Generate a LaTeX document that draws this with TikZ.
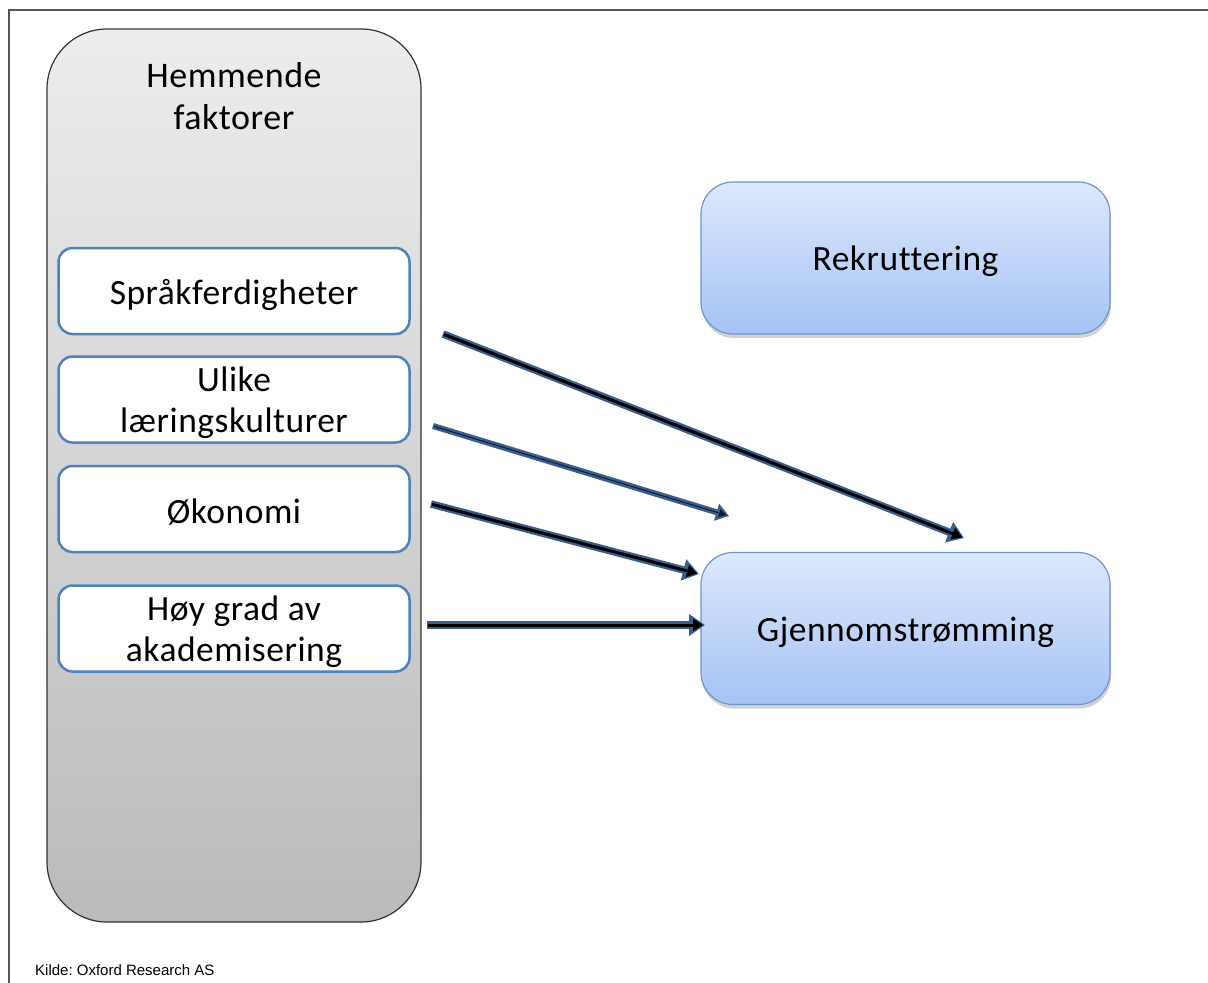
\documentclass[tikz,border=0pt]{standalone}
\usepackage{fontspec}
\setmainfont{Carlito}[Ligatures=NoCommon, LetterSpace=1.5]
\newfontfamily\arialfont{Liberation Sans}
\usetikzlibrary{arrows.meta,shadows}
\newcommand{\dnline}[1]{\raisebox{-3.5pt}[\height][\depth]{#1}}
\definecolor{framegray}{HTML}{555555}
\definecolor{boxblue}{HTML}{4F81BD}
\definecolor{arrowblue}{HTML}{3A5F8F}
\definecolor{lightblueTop}{HTML}{DDE8FC}
\definecolor{lightblueBot}{HTML}{A5C3F5}
\definecolor{lightborder}{HTML}{6E96CD}
\tikzset{
  panel/.style={draw=black!80, line width=1.2pt, rounded corners=60pt,
    top color=black!7, bottom color=black!27, minimum width=374pt, minimum height=893pt},
  factor/.style={draw=boxblue, line width=2.5pt, fill=white, rounded corners=14pt,
    minimum width=351pt, minimum height=86pt, align=center,
    font=\fontsize{35.5}{41}\selectfont, text=black},
  outcome/.style={draw=lightborder, line width=1.2pt, rounded corners=32pt,
    top color=lightblueTop, bottom color=lightblueBot,
    minimum width=409pt, minimum height=152pt, font=\fontsize{35.5}{41}\selectfont,
    drop shadow={opacity=0.35, shadow xshift=1pt, shadow yshift=-4pt}},
  blueshaft/.style={draw=arrowblue, line width=7.5pt,
    -{Triangle[length=16pt,width=21pt]}},
  blackcore/.style={draw=black, line width=3pt,
    -{Triangle[length=10pt,width=12pt]}},
  thinshaft/.style={draw=arrowblue, line width=6pt,
    -{Triangle[length=13pt,width=17pt]}},
  thincore/.style={draw=black!70!arrowblue, line width=1pt,
    -{Triangle[length=7pt,width=8pt]}},
}
\begin{document}
\frenchspacing
\begin{tikzpicture}[x=1pt,y=-1pt]
\useasboundingbox (0,0) rectangle (1208,983);
\fill[white] (0,0) rectangle (1208,983);
% frame
\coordinate (fbl) at (9,983);
\coordinate (ftl) at (9,10);
\coordinate (ftr) at (1208,10);
\draw[framegray, line width=1.5pt] (fbl) -- (ftl) -- (ftr);
% panel
\node[panel] (panel) at (234,475.5) {};
\node[font=\fontsize{36}{42}\selectfont, align=center] (title) at (234,96.5) {Hemmende\\faktorer};
\node[factor] (f1) at (234,291) {\dnline{Språkferdigheter}};
\node[factor] (f2) at (234,399.5) {\dnline{Ulike}\\\dnline{læringskulturer}};
\node[factor] (f3) at (234,509) {\dnline{Økonomi}};
\node[factor] (f4) at (234,628.5) {\dnline{Høy grad av}\\\dnline{akademisering}};
% outcomes
\node[outcome] (rek) at (905.5,258) {\dnline{Rekruttering}};
\node[outcome] (gjen) at (905.5,628.5) {\dnline{Gjennomstrømming}};
% arrow coordinates
\coordinate (a1s) at (443,334);
\coordinate (a1e) at (964,538);
\coordinate (a2s) at (433,426);
\coordinate (a2e) at (729,516);
\coordinate (a3s) at (431,504);
\coordinate (a3e) at (699,574);
\coordinate (a4s) at (427,625);
\coordinate (a4e) at (705,625);
% arrows
\draw[blueshaft] (a1s) -- (a1e);
\draw[blackcore, shorten >=2pt, shorten <=1pt] (a1s) -- (a1e);
\draw[thinshaft] (a2s) -- (a2e);
\draw[thincore, shorten >=3pt, shorten <=1pt] (a2s) -- (a2e);
\draw[blueshaft] (a3s) -- (a3e);
\draw[blackcore, shorten >=2pt, shorten <=1pt] (a3s) -- (a3e);
\draw[blueshaft] (a4s) -- (a4e);
\draw[blackcore, shorten >=2pt, shorten <=1pt] (a4s) -- (a4e);
% source
\node[anchor=west, font=\arialfont\fontsize{15}{17}\selectfont, inner sep=0pt] (src) at (35,970) {Kilde: Oxford Research AS};
\end{tikzpicture}
\end{document}
